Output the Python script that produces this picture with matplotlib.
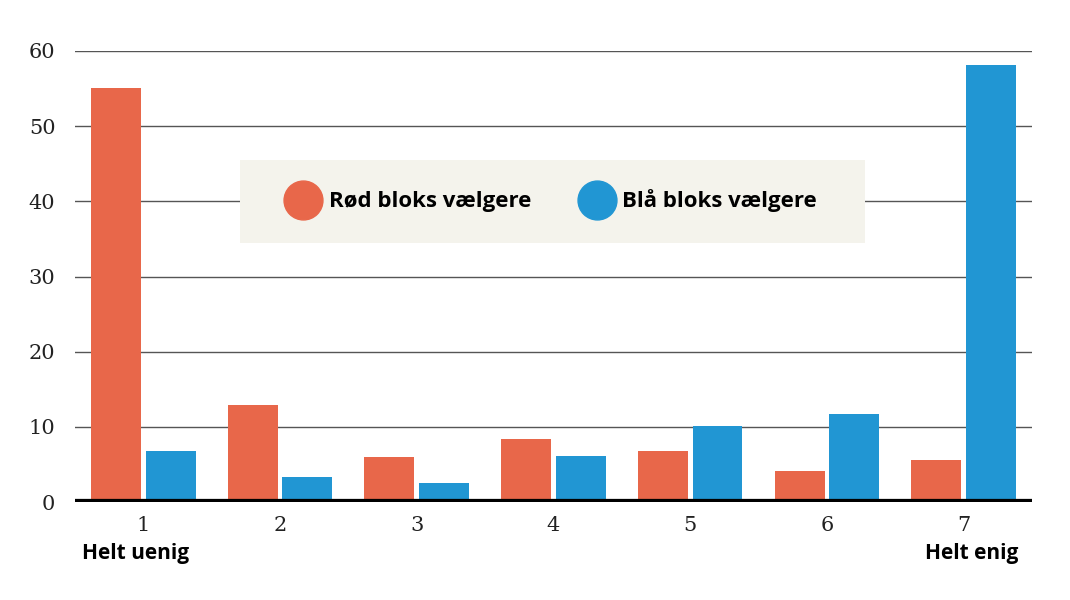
import matplotlib
matplotlib.use("Agg")
import matplotlib.pyplot as plt
import numpy as np
from matplotlib.patches import Rectangle
from matplotlib.lines import Line2D

categories = ["1", "2", "3", "4", "5", "6", "7"]
red_values = [55.1, 12.9, 6.0, 8.4, 6.8, 4.1, 5.6]
blue_values = [6.8, 3.3, 2.5, 6.2, 10.1, 11.7, 58.1]
series_names = ["Rød bloks vælgere", "Blå bloks vælgere"]
yticks = [0, 10, 20, 30, 40, 50, 60]

RED = "#E8674A"
BLUE = "#2196D3"

fig = plt.figure(figsize=(10.7, 6), dpi=100)
ax = fig.add_axes([0.070, 0.163, 0.8945, 0.752])
x = np.arange(len(categories))
w = 0.365
ax.bar(x - 0.2, red_values, w, color=RED, zorder=3)
ax.bar(x + 0.2, blue_values, w, color=BLUE, zorder=3)
ax.set_xlim(-0.5, 6.5)
ax.set_ylim(0, 60)
for s in ax.spines.values():
    s.set_visible(False)
for t in yticks[1:]:
    ax.axhline(t, color="#555555", lw=1, zorder=1)
ax.axhline(0, color="black", lw=4.5, zorder=4)
ax.set_yticks(yticks)
ax.set_yticklabels([str(t) for t in yticks], family="DejaVu Serif", fontsize=15, color="#222222")
ax.tick_params(axis="y", length=0, pad=14)
ax.set_xticks(x)
ax.set_xticklabels(categories, family="DejaVu Serif", fontsize=15, color="#222222")
ax.tick_params(axis="x", length=0, pad=10)

fig.text(82/1070, 1 - 553/600, "Helt uenig", ha="left", va="center", fontsize=15, fontweight="bold", family="Open Sans")
fig.text(1018/1070, 1 - 553/600, "Helt enig", ha="right", va="center", fontsize=15, fontweight="bold", family="Open Sans")

# legend box
fig.patches.append(Rectangle((240/1070, 1 - 243/600), 625/1070, 83/600, transform=fig.transFigure,
                             facecolor="#F4F3EC", edgecolor="none", zorder=5))
handles = [Line2D([], [], marker="o", ls="none", markersize=28, color=RED),
           Line2D([], [], marker="o", ls="none", markersize=28, color=BLUE)]
leg = fig.legend(handles, series_names, loc="center", bbox_to_anchor=(552/1070, 1 - 201/600),
                 ncol=2, frameon=False, prop={"family": "Open Sans", "weight": "bold", "size": 16},
                 handletextpad=0.4, columnspacing=2.2, handlelength=1.5)
leg.set_zorder(6)

fig.savefig("out.png", dpi=100, facecolor="white")
